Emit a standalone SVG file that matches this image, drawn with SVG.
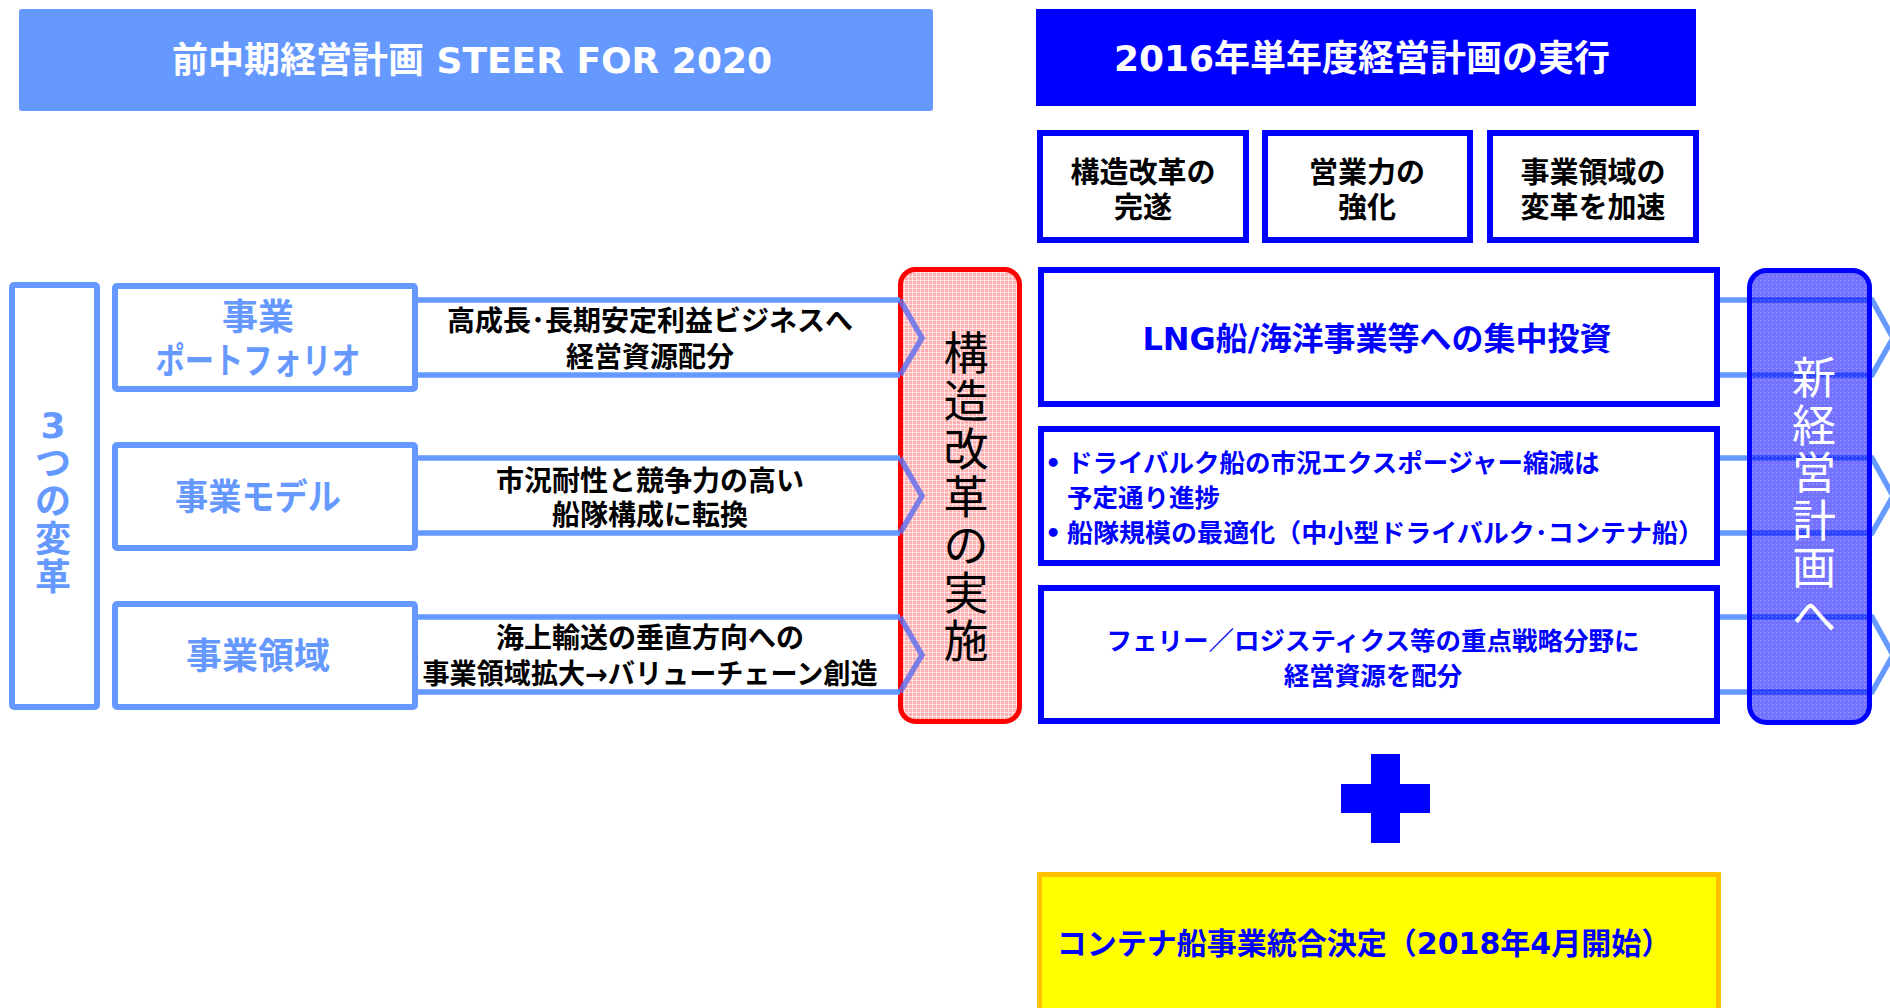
<svg xmlns="http://www.w3.org/2000/svg" width="1890" height="1008" viewBox="0 0 1890 1008">
<defs>
<pattern id="pink" width="4" height="4" patternUnits="userSpaceOnUse">
<rect width="4" height="4" fill="#FFB0B0"/>
<rect width="4" height="1" fill="#FFFFFF" fill-opacity="0.6"/>
<rect width="1" height="4" fill="#FFFFFF" fill-opacity="0.6"/>
</pattern>
<pattern id="bluepat" width="4" height="4" patternUnits="userSpaceOnUse">
<rect width="4" height="4" fill="#0000FF" fill-opacity="0.55"/>
<rect width="1" height="1" fill="#FFFFFF" fill-opacity="0.35"/>
</pattern>
</defs>
<style>
text { font-family: "DejaVu Sans","Noto Sans CJK JP",sans-serif; }
.b { font-weight: bold; }
.mid { text-anchor: middle; }
.lb { fill: #FFFFFF; stroke: #6699FF; stroke-width: 6; }
.bb { fill: #FFFFFF; stroke: #0000FF; stroke-width: 6; }
.band { fill: none; stroke: #6699FF; stroke-width: 5.5; }
.chev { fill: none; stroke: #5C6BF0; stroke-opacity: 0.8; stroke-width: 5.5; }
.lbl { fill: #6699FF; font-size: 36px; font-weight: bold; text-anchor: middle; }
.bnd { fill: #000000; font-size: 28px; font-weight: bold; text-anchor: middle; }
.sm { fill: #000000; font-size: 29px; font-weight: bold; text-anchor: middle; }
.blu { fill: #0000FF; font-weight: bold; }
</style>

<g id="banner-left">
<rect x="19" y="9" width="914" height="102" rx="3" fill="#6699FF"/>
<text x="472" y="73" class="b mid" font-size="36" fill="#FFFFFF">前中期経営計画 STEER FOR 2020</text>
</g>

<g id="banner-right">
<rect x="1036" y="9" width="660" height="97" fill="#0000FF"/>
<text x="1362" y="71" class="b mid" font-size="36" fill="#FFFFFF">2016年単年度経営計画の実行</text>
</g>

<g id="goal-1">
<rect x="1040" y="133" width="206" height="107" class="bb"/>
<text class="sm"><tspan x="1143" y="183">構造改革の</tspan><tspan x="1143" y="218">完遂</tspan></text>
</g>
<g id="goal-2">
<rect x="1265" y="133" width="205" height="107" class="bb"/>
<text class="sm"><tspan x="1367" y="183">営業力の</tspan><tspan x="1367" y="218">強化</tspan></text>
</g>
<g id="goal-3">
<rect x="1490" y="133" width="206" height="107" class="bb"/>
<text class="sm"><tspan x="1593" y="183">事業領域の</tspan><tspan x="1593" y="218">変革を加速</tspan></text>
</g>

<g id="three-changes">
<rect x="12" y="285" width="85" height="422" rx="2" class="lb"/>
<text class="lbl" font-size="37"><tspan x="53" y="438">3</tspan><tspan x="53" y="476">つ</tspan><tspan x="53" y="514">の</tspan><tspan x="53" y="552">変</tspan><tspan x="53" y="590">革</tspan></text>
</g>

<g id="portfolio">
<rect x="115" y="286" width="300" height="103" rx="2" class="lb"/>
<text class="lbl"><tspan x="258" y="330">事業</tspan><tspan x="258" y="374" textLength="205" lengthAdjust="spacingAndGlyphs">ポートフォリオ</tspan></text>
</g>
<g id="model">
<rect x="115" y="445" width="300" height="103" rx="2" class="lb"/>
<text class="lbl" x="258" y="510" textLength="166" lengthAdjust="spacingAndGlyphs">事業モデル</text>
</g>
<g id="domain">
<rect x="115" y="604" width="300" height="103" rx="2" class="lb"/>
<text class="lbl" x="258" y="669">事業領域</text>
</g>

<g id="restructure">
<rect x="900.5" y="269.5" width="119" height="452" rx="15" fill="url(#pink)" stroke="#FF0000" stroke-width="5"/>
<text class="mid" font-size="45" fill="#000000"><tspan x="966" y="370">構</tspan><tspan x="966" y="418">造</tspan><tspan x="966" y="466">改</tspan><tspan x="966" y="514">革</tspan><tspan x="966" y="562">の</tspan><tspan x="966" y="610">実</tspan><tspan x="966" y="658">施</tspan></text>
</g>

<g id="action-1">
<rect x="1041" y="270" width="676" height="134" class="bb"/>
<text class="blu mid" x="1377" y="350" font-size="32">LNG船/海洋事業等への集中投資</text>
</g>
<g id="action-2">
<rect x="1041" y="429" width="676" height="134" class="bb"/>
<text class="blu" font-size="25.5"><tspan x="1045" y="472">•</tspan><tspan x="1067" y="472">ドライバルク船の市況エクスポージャー縮減は</tspan><tspan x="1067" y="507">予定通り進捗</tspan><tspan x="1045" y="542">•</tspan><tspan x="1067" y="542" textLength="637" lengthAdjust="spacingAndGlyphs">船隊規模の最適化（中小型ドライバルク･コンテナ船）</tspan></text>
</g>
<g id="action-3">
<rect x="1041" y="588" width="676" height="133" class="bb"/>
<text class="blu mid" font-size="25.5"><tspan x="1373" y="650">フェリー／ロジスティクス等の重点戦略分野に</tspan><tspan x="1373" y="685">経営資源を配分</tspan></text>
</g>

<g id="connectors">
<path class="band" d="M418,300 H900 M418,375 H900"/>
<path class="band" d="M418,458 H900 M418,533 H900"/>
<path class="band" d="M418,617 H900 M418,692 H900"/>
<path class="chev" d="M900,300 L922,338 L900,375"/>
<path class="chev" d="M900,458 L922,496 L900,533"/>
<path class="chev" d="M900,617 L922,655 L900,692"/>
<path class="band" d="M1720,300 H1872 L1893,338 L1872,375 H1720"/>
<path class="band" d="M1720,458 H1872 L1893,496 L1872,533 H1720"/>
<path class="band" d="M1720,617 H1872 L1893,655 L1872,692 H1720"/>
<text class="bnd"><tspan x="650" y="331">高成長･長期安定利益ビジネスへ</tspan><tspan x="650" y="367">経営資源配分</tspan></text>
<text class="bnd"><tspan x="650" y="491">市況耐性と競争力の高い</tspan><tspan x="650" y="525">船隊構成に転換</tspan></text>
<text class="bnd"><tspan x="650" y="648">海上輸送の垂直方向への</tspan><tspan x="650" y="684" textLength="455" lengthAdjust="spacingAndGlyphs">事業領域拡大→バリューチェーン創造</tspan></text>
</g>

<g id="new-plan">
<rect x="1749.5" y="270.5" width="120" height="452" rx="17" fill="url(#bluepat)" stroke="#0000FF" stroke-width="5"/>
<text class="mid" font-size="44" fill="#FFFFFF"><tspan x="1814" y="394">新</tspan><tspan x="1814" y="442">経</tspan><tspan x="1814" y="489">営</tspan><tspan x="1814" y="537">計</tspan><tspan x="1814" y="584">画</tspan><tspan x="1814" y="632">へ</tspan></text>
</g>

<g id="plus">
<path d="M1371,754 H1400 V784 H1430 V813 H1400 V843 H1371 V813 H1341 V784 H1371 Z" fill="#0000FF"/>
</g>

<g id="container">
<rect x="1039.5" y="874.5" width="679" height="140" fill="#FFFF00" stroke="#FFC000" stroke-width="5"/>
<text class="blu mid" x="1364" y="954" font-size="30">コンテナ船事業統合決定（2018年4月開始）</text>
</g>
</svg>
